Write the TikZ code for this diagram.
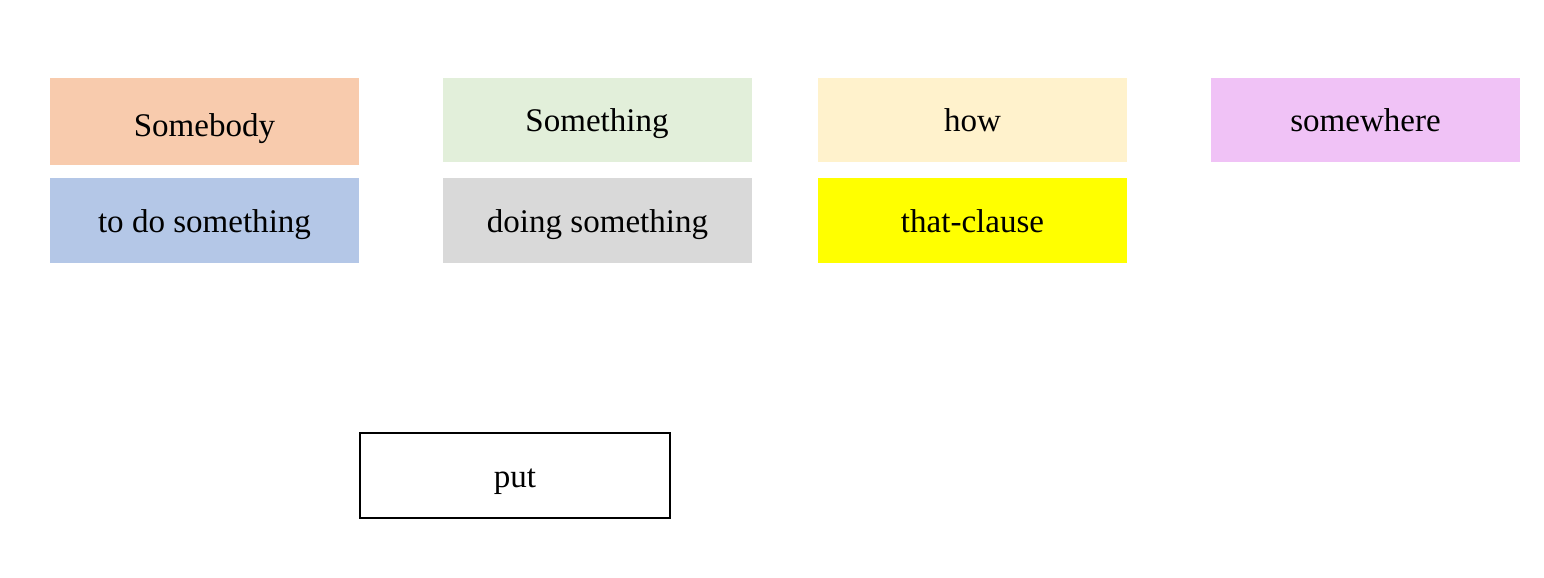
\documentclass[tikz,border=0pt]{standalone}
\usepackage{fontspec}
\setmainfont{Liberation Serif}
\usepackage{xcolor}
\definecolor{peach}{HTML}{F8CBAD}
\definecolor{palegreen}{HTML}{E2EFDA}
\definecolor{cream}{HTML}{FFF2CC}
\definecolor{orchid}{HTML}{F0C2F6}
\definecolor{paleblue}{HTML}{B4C7E7}
\definecolor{lightgray}{HTML}{D9D9D9}
\definecolor{brightyellow}{RGB}{255,255,0}

\begin{document}
\begin{tikzpicture}[font=\fontsize{18.8}{22}\selectfont,
  tag/.style={inner sep=0pt,text height=0.48cm,text depth=0pt,
    minimum width=6.18cm,minimum height=1.68cm}]
\useasboundingbox (0,0) rectangle (30.88,-11.54);
% top row
\node[tag,fill=peach,minimum height=1.74cm,text height=0.6cm] (somebody) at (4.09,-2.43) {Somebody};
\node[tag,fill=palegreen] (something) at (11.94,-2.39) {Something};
\node[tag,fill=cream] (how) at (19.45,-2.39) {how};
\node[tag,fill=orchid] (somewhere) at (27.31,-2.39) {somewhere};
% second row
\node[tag,fill=paleblue,minimum height=1.7cm] (todo) at (4.09,-4.41) {to do something};
\node[tag,fill=lightgray,minimum height=1.7cm] (doing) at (11.95,-4.41) {doing something};
\node[tag,fill=brightyellow,minimum height=1.7cm] (thatclause) at (19.45,-4.41) {that-clause};
% verb
\node[tag,draw=black,line width=1.5pt,minimum width=6.2cm,minimum height=1.7cm] (put) at (10.3,-9.51) {put};
\end{tikzpicture}
\end{document}
